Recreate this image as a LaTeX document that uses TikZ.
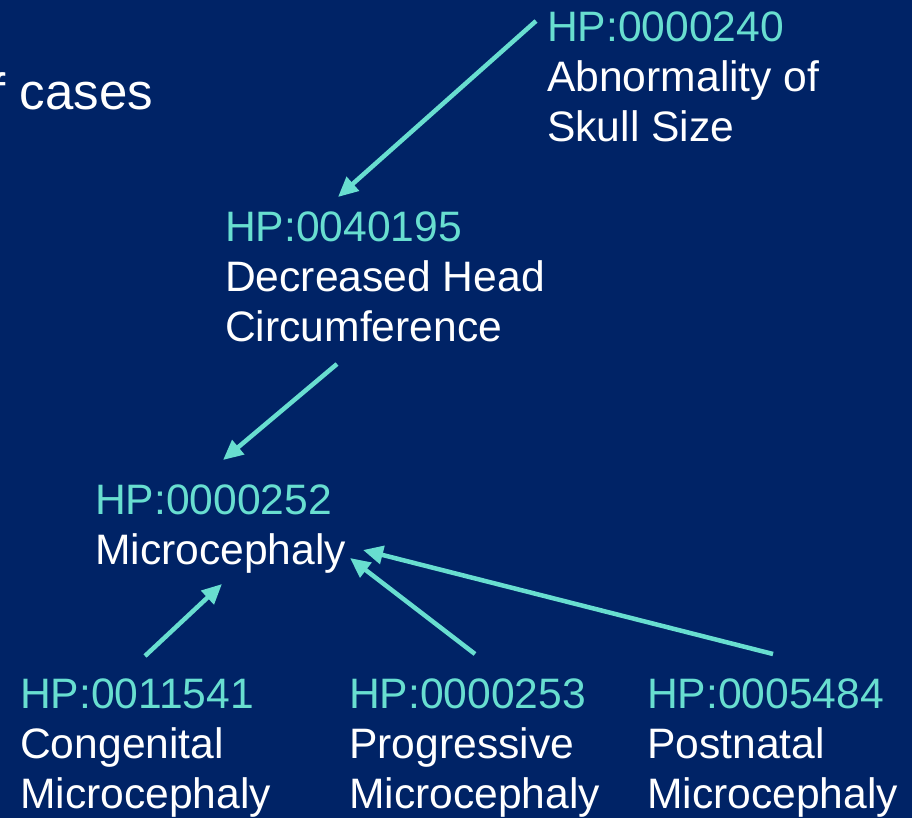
\documentclass[tikz,border=0pt]{standalone}
\usepackage{fontspec}
\setmainfont{Liberation Sans}
\usetikzlibrary{arrows.meta}
\definecolor{bgnavy}{RGB}{0,35,102}
\definecolor{turq}{RGB}{104,222,208}
\tikzset{
  term/.style={anchor=base west, inner sep=0pt, align=left, text=white,
    font=\fontsize{42.6}{50}\selectfont},
  link/.style={draw=turq, line width=4.5pt, -{Triangle[length=20pt,width=18pt]}},
}
\newcommand{\hpid}[1]{\textcolor{turq}{#1}}
\begin{document}
\begin{tikzpicture}[x=1pt,y=-1pt]
\useasboundingbox (0,0) rectangle (912,818);
\clip (0,0) rectangle (912,818);
\fill[bgnavy] (0,0) rectangle (912,818);
% anchors are at the baseline of each node's last line
\node[term, font=\fontsize{51}{60}\selectfont] (cases) at (-37,110) {of cases};
\node[term] (skull) at (547,142) {\hpid{HP:0000240}\\Abnormality of\\Skull Size};
\node[term] (dhc) at (225,341) {\hpid{HP:0040195}\\Decreased Head\\Circumference};
\node[term] (micro) at (95,564) {\hpid{HP:0000252}\\Microcephaly};
\node[term] (cong) at (20,808) {\hpid{HP:0011541}\\Congenital\\Microcephaly};
\node[term] (prog) at (349,808) {\hpid{HP:0000253}\\Progressive\\Microcephaly};
\node[term] (post) at (647,808) {\hpid{HP:0005484}\\Postnatal\\Microcephaly};
\coordinate (s1) at (536,21);  \coordinate (t1) at (338,197);
\coordinate (s2) at (337,364); \coordinate (t2) at (223,460);
\coordinate (s3) at (145,656); \coordinate (t3) at (222,584);
\coordinate (s4) at (475,654); \coordinate (t4) at (350,558);
\coordinate (s5) at (773,654); \coordinate (t5) at (363,550);
\draw[link] (s1) -- (t1);
\draw[link] (s2) -- (t2);
\draw[link] (s3) -- (t3);
\draw[link] (s4) -- (t4);
\draw[link] (s5) -- (t5);
\end{tikzpicture}
\end{document}
